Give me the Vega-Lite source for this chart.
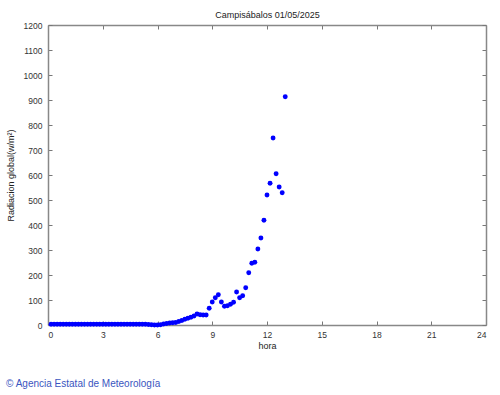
{
  "$schema": "https://vega.github.io/schema/vega-lite/v6.json",
  "autosize": "none",
  "width": 438,
  "height": 300,
  "padding": {"left": 48, "top": 25, "right": 14, "bottom": 70},
  "background": "white",
  "config": {
    "view": {"stroke": null},
    "font": "Liberation Sans",
    "axis": {"grid": false, "labelFont": "Liberation Sans", "titleFont": "Liberation Sans", "labelFontSize": 8.5, "titleFontSize": 9, "labelColor": "#333", "titleColor": "#222", "titleFontWeight": "normal", "domainColor": "#888", "domainWidth": 1.5, "tickColor": "#777", "tickWidth": 1}
  },
  "title": {"text": "© Agencia Estatal de Meteorología", "orient": "bottom", "anchor": "start", "frame": "bounds", "font": "Liberation Sans", "fontSize": 10, "fontWeight": "normal", "color": "#3a55c0", "offset": 28},
  "data": {"values": [
    {"hora": 0.167, "rad": 3}, {"hora": 0.333, "rad": 3}, {"hora": 0.5, "rad": 3}, {"hora": 0.667, "rad": 3}, {"hora": 0.833, "rad": 3}, {"hora": 1.0, "rad": 3},
    {"hora": 1.167, "rad": 3}, {"hora": 1.333, "rad": 3}, {"hora": 1.5, "rad": 3}, {"hora": 1.667, "rad": 3}, {"hora": 1.833, "rad": 3}, {"hora": 2.0, "rad": 3},
    {"hora": 2.167, "rad": 3}, {"hora": 2.333, "rad": 3}, {"hora": 2.5, "rad": 3}, {"hora": 2.667, "rad": 3}, {"hora": 2.833, "rad": 3}, {"hora": 3.0, "rad": 3},
    {"hora": 3.167, "rad": 3}, {"hora": 3.333, "rad": 3}, {"hora": 3.5, "rad": 3}, {"hora": 3.667, "rad": 3}, {"hora": 3.833, "rad": 3}, {"hora": 4.0, "rad": 3},
    {"hora": 4.167, "rad": 3}, {"hora": 4.333, "rad": 3}, {"hora": 4.5, "rad": 3}, {"hora": 4.667, "rad": 3}, {"hora": 4.833, "rad": 3}, {"hora": 5.0, "rad": 3},
    {"hora": 5.167, "rad": 3}, {"hora": 5.333, "rad": 3}, {"hora": 5.5, "rad": 2}, {"hora": 5.667, "rad": 1}, {"hora": 5.833, "rad": 0}, {"hora": 6.0, "rad": 0},
    {"hora": 6.167, "rad": 1}, {"hora": 6.333, "rad": 4}, {"hora": 6.5, "rad": 6}, {"hora": 6.667, "rad": 8}, {"hora": 6.833, "rad": 9}, {"hora": 7.0, "rad": 10},
    {"hora": 7.167, "rad": 14}, {"hora": 7.333, "rad": 18}, {"hora": 7.5, "rad": 23}, {"hora": 7.667, "rad": 27}, {"hora": 7.833, "rad": 31}, {"hora": 8.0, "rad": 36},
    {"hora": 8.167, "rad": 44}, {"hora": 8.333, "rad": 41}, {"hora": 8.5, "rad": 40}, {"hora": 8.667, "rad": 40}, {"hora": 8.833, "rad": 67}, {"hora": 9.0, "rad": 92},
    {"hora": 9.167, "rad": 109}, {"hora": 9.333, "rad": 121}, {"hora": 9.5, "rad": 92}, {"hora": 9.667, "rad": 75}, {"hora": 9.833, "rad": 77}, {"hora": 10.0, "rad": 83},
    {"hora": 10.167, "rad": 91}, {"hora": 10.333, "rad": 132}, {"hora": 10.5, "rad": 109}, {"hora": 10.667, "rad": 117}, {"hora": 10.833, "rad": 149}, {"hora": 11.0, "rad": 209},
    {"hora": 11.167, "rad": 247}, {"hora": 11.333, "rad": 251}, {"hora": 11.5, "rad": 304}, {"hora": 11.667, "rad": 348}, {"hora": 11.833, "rad": 419}, {"hora": 12.0, "rad": 520},
    {"hora": 12.167, "rad": 567}, {"hora": 12.333, "rad": 748}, {"hora": 12.5, "rad": 605}, {"hora": 12.667, "rad": 552}, {"hora": 12.833, "rad": 529}, {"hora": 13.0, "rad": 913}
  ]},
  "layer": [
    {
      "mark": {"type": "point", "filled": true, "shape": "circle", "size": 24, "color": "#0000ff", "opacity": 1},
      "encoding": {
        "x": {"field": "hora", "type": "quantitative", "scale": {"domain": [0, 24], "nice": false, "zero": false},
          "axis": {"orient": "bottom", "values": [0, 3, 6, 9, 12, 15, 18, 21, 24], "format": "d", "title": "hora", "tickSize": -4, "labelPadding": 9, "titlePadding": 3}},
        "y": {"field": "rad", "type": "quantitative", "scale": {"domain": [0, 1200], "nice": false},
          "axis": {"orient": "left", "values": [0, 100, 200, 300, 400, 500, 600, 700, 800, 900, 1000, 1100, 1200], "format": "d", "title": "Radiacion global(w/m²)", "tickSize": -4, "labelPadding": 10, "titlePadding": 8}}
      }
    },
    {
      "mark": {"type": "point", "opacity": 0},
      "encoding": {
        "x": {"field": "hora", "type": "quantitative",
          "axis": {"orient": "top", "values": [0, 3, 6, 9, 12, 15, 18, 21, 24], "labels": false, "title": "Campisábalos 01/05/2025", "tickSize": -4, "titlePadding": 5}},
        "y": {"field": "rad", "type": "quantitative",
          "axis": {"orient": "right", "values": [0, 100, 200, 300, 400, 500, 600, 700, 800, 900, 1000, 1100, 1200], "labels": false, "title": null, "tickSize": -4}}
      }
    }
  ],
  "resolve": {"axis": {"x": "independent", "y": "independent"}}
}
